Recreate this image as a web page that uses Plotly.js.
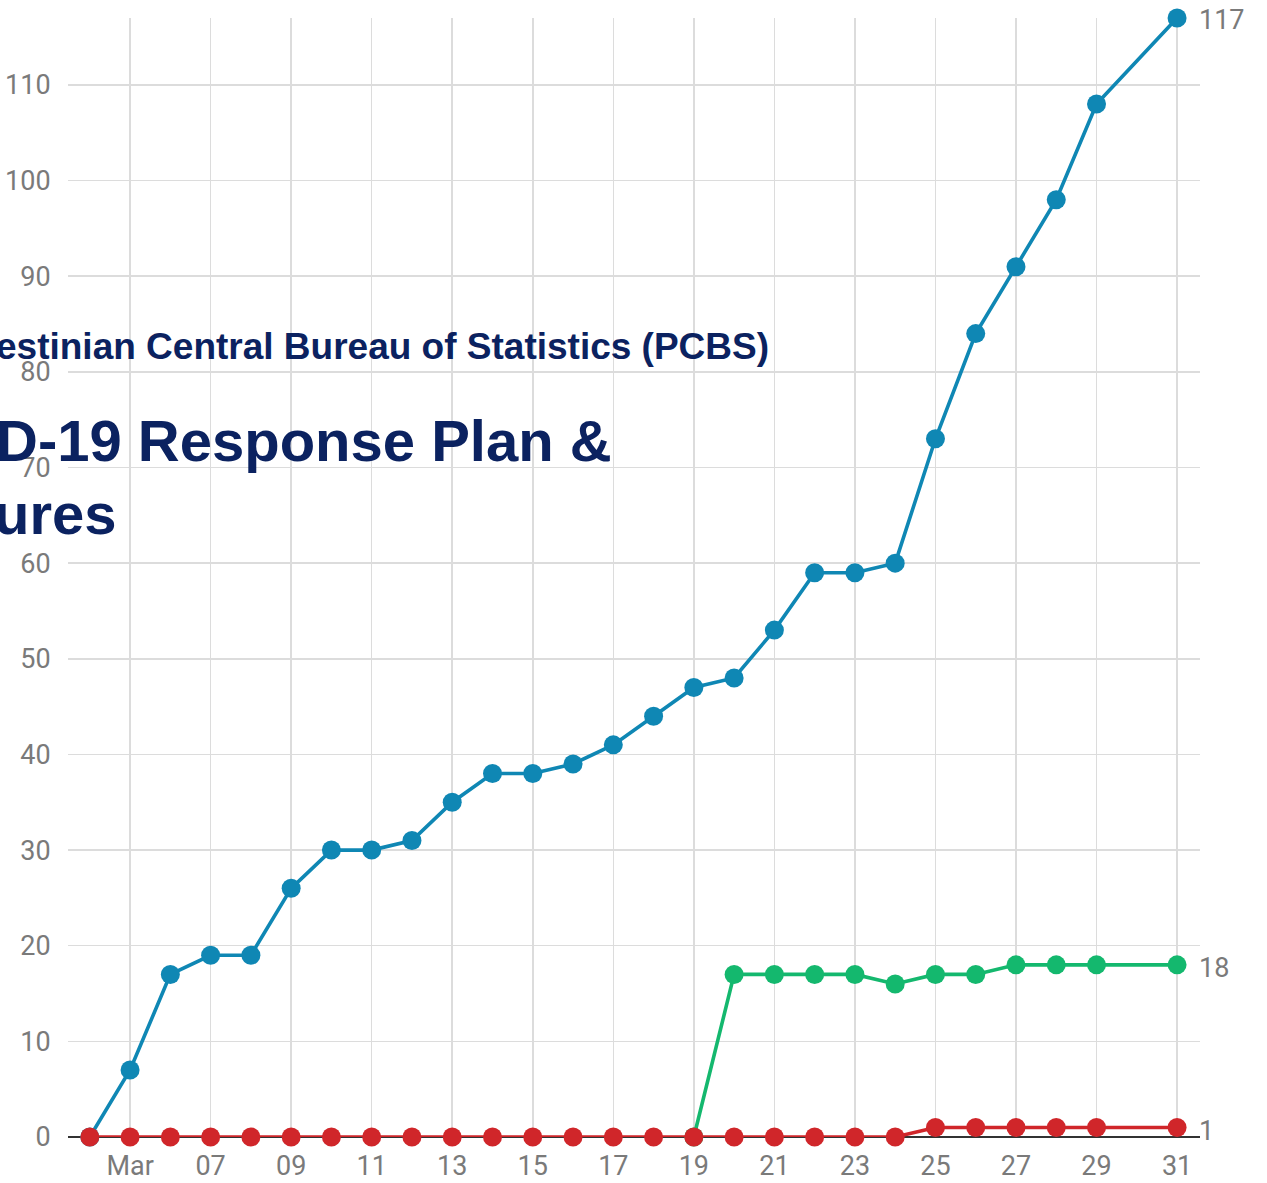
<!DOCTYPE html>
<html>
<head>
<meta charset="utf-8">
<script src="https://cdn.plot.ly/plotly-3.0.1.min.js"></script>
<style>html,body{margin:0;padding:0;background:#fff;}#chart{width:1267px;height:1183px;}</style>
</head>
<body>
<div id="chart"></div>
<script>
// Data (March 2020)
const datesBlue = ["2020-03-04","2020-03-05","2020-03-06","2020-03-07","2020-03-08","2020-03-09","2020-03-10","2020-03-11","2020-03-12","2020-03-13","2020-03-14","2020-03-15","2020-03-16","2020-03-17","2020-03-18","2020-03-19","2020-03-20","2020-03-21","2020-03-22","2020-03-23","2020-03-24","2020-03-25","2020-03-26","2020-03-27","2020-03-28","2020-03-29","2020-03-31"];
const blueValues = [0,7,17,19,19,26,30,30,31,35,38,38,39,41,44,47,48,53,59,59,60,73,84,91,98,108,117];

const datesGreen = ["2020-03-19","2020-03-20","2020-03-21","2020-03-22","2020-03-23","2020-03-24","2020-03-25","2020-03-26","2020-03-27","2020-03-28","2020-03-29","2020-03-31"];
const greenValues = [0,17,17,17,17,16,17,17,18,18,18,18];

const datesRed = datesBlue;
const redValues = [0,0,0,0,0,0,0,0,0,0,0,0,0,0,0,0,0,0,0,0,0,1,1,1,1,1,1];

const tickDates = ["2020-03-05","2020-03-07","2020-03-09","2020-03-11","2020-03-13","2020-03-15","2020-03-17","2020-03-19","2020-03-21","2020-03-23","2020-03-25","2020-03-27","2020-03-29","2020-03-31"];
const tickLabels = ["Mar","07","09","11","13","15","17","19","21","23","25","27","29","31"];
const yTicks = [0,10,20,30,40,50,60,70,80,90,100,110];

const headerLines = ["estinian Central Bureau of Statistics (PCBS)", "D-19 Response Plan &", "ures"];

const BLUE = "#0f87b4", GREEN = "#14b86e", RED = "#d0262a";

function series(x, y, color) {
  return {
    x: x, y: y, type: "scatter", mode: "lines+markers",
    line: {color: color, width: 3.6},
    marker: {color: color, size: 19},
    cliponaxis: false, showlegend: false, hoverinfo: "x+y"
  };
}

const traces = [
  series(datesBlue, blueValues, BLUE),
  series(datesGreen, greenValues, GREEN),
  series(datesRed, redValues, RED)
];

const L = 68, R = 67, T = 18, B = 46, W = 1267, H = 1183;
const pw = W - L - R, ph = H - T - B;
function px2x(px){ return (px - L) / pw; }
function px2y(py){ return (H - B - py) / ph; }

const greyFont = {family: "Roboto, 'Noto Sans', sans-serif", size: 27, color: "#7a7a7a"};
const navy = "#0b2260";
const headFont = "'Liberation Sans', Arial, sans-serif";

const annotations = [
  {xref:"paper", yref:"paper", x: px2x(-6), y: px2y(346), xanchor:"left", yanchor:"middle",
   text: headerLines[0], showarrow:false,
   font:{family:headFont, size:37, color:navy, weight:"bold"}},
  {xref:"paper", yref:"paper", x: px2x(-6), y: px2y(440), xanchor:"left", yanchor:"middle",
   text: headerLines[1], showarrow:false,
   font:{family:headFont, size:58, color:navy, weight:"bold"}},
  {xref:"paper", yref:"paper", x: px2x(-8), y: px2y(513), xanchor:"left", yanchor:"middle",
   text: headerLines[2], showarrow:false,
   font:{family:headFont, size:58, color:navy, weight:"bold"}},
  {x: datesBlue[datesBlue.length-1], y: blueValues[blueValues.length-1], xanchor:"left", yanchor:"middle",
   xshift: 20, yshift: -2, text: String(blueValues[blueValues.length-1]), showarrow:false, font: greyFont},
  {x: datesGreen[datesGreen.length-1], y: greenValues[greenValues.length-1], xanchor:"left", yanchor:"middle",
   xshift: 20, yshift: -3, text: String(greenValues[greenValues.length-1]), showarrow:false, font: greyFont},
  {x: datesRed[datesRed.length-1], y: redValues[redValues.length-1], xanchor:"left", yanchor:"middle",
   xshift: 20, yshift: -4, text: String(redValues[redValues.length-1]), showarrow:false, font: greyFont}
];

const layout = {
  width: W, height: H,
  margin: {l: L, r: R, t: T, b: B, pad: 0},
  paper_bgcolor: "#fff", plot_bgcolor: "#fff",
  showlegend: false,
  xaxis: {
    type: "date",
    range: ["2020-03-03 11:00", "2020-03-31 13:40"],
    tickvals: tickDates, ticktext: tickLabels,
    showgrid: true, gridcolor: "#dcdcdc", gridwidth: 1.5,
    zeroline: false, showline: false,
    ticks: "outside", ticklen: 5, tickcolor: "rgba(0,0,0,0)",
    tickfont: greyFont
  },
  yaxis: {
    range: [0, 117],
    tickvals: yTicks,
    showgrid: true, gridcolor: "#dcdcdc", gridwidth: 1.5,
    zeroline: true, zerolinecolor: "#333", zerolinewidth: 2,
    showline: false,
    ticks: "outside", ticklen: 11, tickcolor: "rgba(0,0,0,0)",
    tickfont: greyFont
  },
  annotations: annotations
};

Plotly.newPlot("chart", traces, layout, {displayModeBar: false, staticPlot: true});
</script>
</body>
</html>
